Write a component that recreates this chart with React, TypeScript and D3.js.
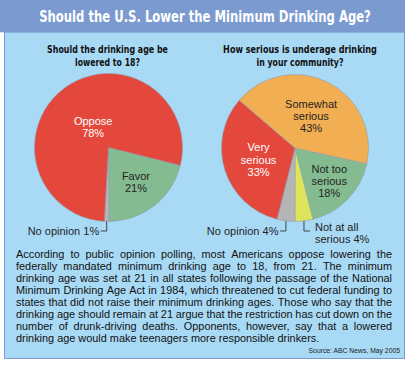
import React, { useMemo } from 'react';
import * as d3 from 'd3';

// poll 1: should the drinking age be lowered to 18?
const ageCategories = ['Favor', 'No opinion', 'Oppose'];
const ageValues = [21, 1, 78];
const ageColors = ['#84bb90', '#b5b5b5', '#e4473c'];

// poll 2: how serious is underage drinking in your community?
const seriousCategories = ['Not too serious', 'Not at all serious', 'No opinion', 'Very serious', 'Somewhat serious'];
const seriousValues = [18, 4, 4, 33, 43];
const seriousColors = ['#84bb90', '#dde55b', '#b5b5b5', '#e4473c', '#f2ae53'];

const paragraphLines = [
  'According to public opinion polling, most Americans oppose lowering the',
  'federally mandated minimum drinking age to 18, from 21. The minimum',
  'drinking age was set at 21 in all states following the passage of the National',
  'Minimum Drinking Age Act in 1984, which threatened to cut federal funding to',
  'states that did not raise their minimum drinking ages. Those who say that the',
  'drinking age should remain at 21 argue that the restriction has cut down on the',
  'number of drunk-driving deaths. Opponents, however, say that a lowered',
  'drinking age would make teenagers more responsible drinkers.',
];

const W = 411;
const H = 367;
const SANS = '"Liberation Sans", Arial, Helvetica, sans-serif';
const NARROW = '"Liberation Sans Narrow", "DejaVu Sans Condensed", "Liberation Sans", sans-serif';
const DARK = '#1f1f1f';

let measureCtx: CanvasRenderingContext2D | null = null;
const measure = (text: string, font: string) => {
  if (!measureCtx) measureCtx = document.createElement('canvas').getContext('2d')!;
  measureCtx.font = font;
  return measureCtx.measureText(text).width;
};

// bold condensed headline squeezed horizontally to a given width
const Squeezed: React.FC<{ text: string; x: number; y: number; size: number; width: number; fill: string }> = ({ text, x, y, size, width, fill }) => {
  const natural = measure(text, `bold ${size}px ${NARROW}`);
  const sx = Math.min(1, width / natural);
  return (
    <text transform={`translate(${x},${y}) scale(${sx},1)`} textAnchor="middle" fontFamily={NARROW}
      fontWeight="bold" fontSize={size} fill={fill}>
      {text}
    </text>
  );
};

type LabelSpec =
  | { kind: 'in'; k: number; lines: string[]; color: string }
  | { kind: 'out'; side: 'left' | 'right'; lines: string[] };

interface PieProps {
  cx: number;
  cy: number;
  r: number;
  startDeg: number;
  values: number[];
  colors: string[];
  labels: LabelSpec[];
}

const PieChart: React.FC<PieProps> = ({ cx, cy, r, startDeg, values, colors, labels }) => {
  const start = (startDeg * Math.PI) / 180;
  const arcs = d3.pie<number>().sort(null).value(d => d).startAngle(start).endAngle(start + Math.PI * 2)(values);
  const arcGen = d3.arc<d3.PieArcDatum<number>>().innerRadius(0).outerRadius(r);
  const fs = 11;
  const lh = 12.2;

  return (
    <g transform={`translate(${cx},${cy})`}>
      {arcs.map((a, i) => (
        <path key={i} d={arcGen(a) || ''} fill={colors[i]} stroke="#8f9fae" strokeWidth={0.6} />
      ))}
      {arcs.map((a, i) => {
        const lab = labels[i];
        if (lab.kind === 'in') {
          const [x, y] = d3.arc<d3.PieArcDatum<number>>().innerRadius(lab.k * r).outerRadius(lab.k * r).centroid(a);
          const y0 = y - ((lab.lines.length - 1) * lh) / 2 + 4;
          return (
            <text key={'l' + i} x={x} y={y0} textAnchor="middle" fontFamily={SANS} fontSize={fs} fill={lab.color}>
              {lab.lines.map((t, j) => (
                <tspan key={j} x={x} y={y0 + j * lh}>{t}</tspan>
              ))}
            </text>
          );
        }
        const mid = (a.startAngle + a.endAngle) / 2;
        const ax = r * Math.sin(mid);
        const ay = -r * Math.cos(mid);
        const ly = r + 9.5;
        const dir = lab.side === 'left' ? -1 : 1;
        const hx = ax + dir * 6;
        const tx = lab.side === 'left' ? hx - 1.5 : hx + 5;
        const ty = lab.side === 'left' ? ly + 4 : ly;
        return (
          <g key={'l' + i}>
            <path d={`M${ax},${ay}V${ly}H${hx}`} fill="none" stroke="#333" strokeWidth={0.9} />
            <text x={tx} y={ty} textAnchor={lab.side === 'left' ? 'end' : 'start'} fontFamily={SANS} fontSize={fs} fill={DARK}>
              {lab.lines.map((t, j) => (
                <tspan key={j} x={tx} y={ty + j * 11.5}>{t}</tspan>
              ))}
            </text>
          </g>
        );
      })}
    </g>
  );
};

const pct = (v: number) => `${v}%`;

const title = 'Should the U.S. Lower the Minimum Drinking Age?';
const leftQ = ['Should the drinking age be', 'lowered to 18?'];
const rightQ = ['How serious is underage drinking', 'in your community?'];

const App: React.FC = () => {
  const paraSize = 10.9;
  const paraX = 16;
  const paraW = 376;
  const paraTop = 258.3;
  const paraLH = 11.9;

  // justify the paragraph lines word by word
  const words = useMemo(() => {
    const font = `${paraSize}px ${SANS}`;
    const out: { t: string; x: number; y: number }[] = [];
    paragraphLines.forEach((line, li) => {
      const ws = line.split(' ');
      const y = paraTop + li * paraLH;
      const widths = ws.map(w => measure(w, font));
      const total = d3.sum(widths);
      const last = li === paragraphLines.length - 1;
      const gap = last ? measure(' ', font) : (paraW - total) / (ws.length - 1);
      let x = paraX;
      ws.forEach((w, k) => {
        out.push({ t: w, x, y });
        x += widths[k] + gap;
      });
    });
    return out;
  }, []);

  const ageLabels: LabelSpec[] = [
    { kind: 'in', k: 0.6, lines: [ageCategories[0], pct(ageValues[0])], color: DARK },
    { kind: 'out', side: 'left', lines: [`${ageCategories[1]} ${pct(ageValues[1])}`] },
    { kind: 'in', k: 0.35, lines: [ageCategories[2], pct(ageValues[2])], color: '#fff' },
  ];
  const seriousLabels: LabelSpec[] = [
    { kind: 'in', k: 0.65, lines: ['Not too', 'serious', pct(seriousValues[0])], color: DARK },
    { kind: 'out', side: 'right', lines: ['Not at all', `serious ${pct(seriousValues[1])}`] },
    { kind: 'out', side: 'left', lines: [`${seriousCategories[2]} ${pct(seriousValues[2])}`] },
    { kind: 'in', k: 0.52, lines: ['Very', 'serious', pct(seriousValues[3])], color: '#fff' },
    { kind: 'in', k: 0.49, lines: ['Somewhat', 'serious', pct(seriousValues[4])], color: DARK },
  ];

  return (
    <svg width={W} height={H} style={{ position: 'fixed', left: 0, top: 0, background: '#fff' }}>
      <rect x={4.5} y={32} width={400} height={326.5} fill="#a9daf5" stroke="#7b9ad0" strokeWidth={1} />
      <rect x={0} y={0} width={405} height={32.3} fill="#7b9ad0" />
      <Squeezed text={title} x={205} y={22} size={16.5} width={332} fill="#fff" />

      <Squeezed text={leftQ[0]} x={107.5} y={53} size={11} width={121} fill="#111" />
      <Squeezed text={leftQ[1]} x={107.5} y={66} size={11} width={65} fill="#111" />
      <Squeezed text={rightQ[0]} x={300} y={53} size={11} width={154} fill="#111" />
      <Squeezed text={rightQ[1]} x={300} y={66} size={11} width={87} fill="#111" />

      <PieChart cx={108.5} cy={147.5} r={74} startDeg={104} values={ageValues} colors={ageColors} labels={ageLabels} />
      <PieChart cx={295} cy={148} r={73.5} startDeg={102.4} values={seriousValues} colors={seriousColors} labels={seriousLabels} />

      <g fontFamily={SANS} fontSize={paraSize} fill="#111">
        {words.map((w, i) => (
          <text key={i} x={w.x} y={w.y}>{w.t}</text>
        ))}
      </g>
      <text x={400} y={353} textAnchor="end" fontFamily={SANS} fontSize={6.8} fill="#222">
        Source: ABC News, May 2005
      </text>
    </svg>
  );
};

export default App;
